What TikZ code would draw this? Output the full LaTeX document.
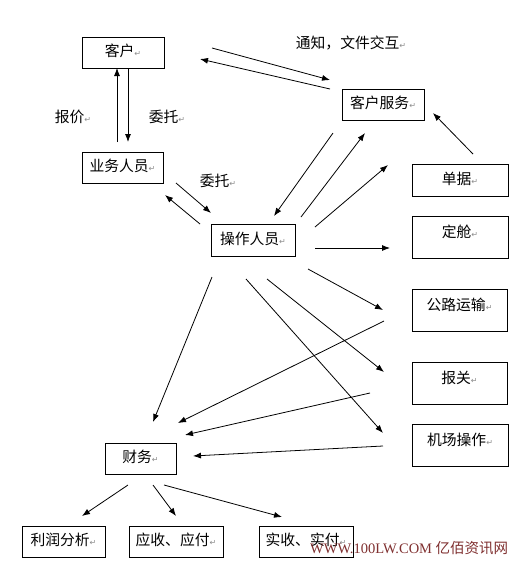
\documentclass[tikz,border=0pt]{standalone}
\usepackage{fontspec}
\usetikzlibrary{arrows.meta}
\newfontfamily\cjk{Noto Sans CJK SC}
\newfontfamily\dejavu{DejaVu Sans}
\newfontfamily\wmserif{Liberation Serif}
\definecolor{wmred}{RGB}{128,48,48}
\newcommand\retmk{{\fontsize{8}{8}\selectfont\dejavu\color{black!45}↵}}
\begin{document}
\begin{tikzpicture}[x=1pt,y=-1pt,
  every node/.style={font=\cjk\fontsize{14.8}{16}\selectfont},
  box/.style={draw=black,line width=0.8pt,inner sep=0pt,text height=11pt,text depth=3pt,align=center},
  tallbox/.style={box,text depth=11pt},
  lbl/.style={inner sep=0pt},
  arr/.style={line width=0.8pt,-{Latex[length=8pt,width=6pt]}}]
\fill[white] (0,0) rectangle (530,563);
\useasboundingbox (0,0) rectangle (530,563);

% boxes
\node[box,minimum width=82pt,minimum height=31pt] (kehu) at (123,52.5) {客户\retmk};
\node[box,minimum width=82pt,minimum height=31pt] (kf) at (383,104.5) {客户服务\retmk};
\node[box,minimum width=81pt,minimum height=31pt] (yw) at (122.5,167.5) {业务人员\retmk};
\node[box,minimum width=96pt,minimum height=32pt] (dj) at (460,180) {单据\retmk};
\node[box,minimum width=84pt,minimum height=32pt] (cz) at (253,240) {操作人员\retmk};
\node[tallbox,minimum width=96pt,minimum height=42pt] (dc) at (460,237) {定舱\retmk};
\node[tallbox,minimum width=95pt,minimum height=42pt] (gl) at (459.5,310) {公路运输\retmk};
\node[tallbox,minimum width=95pt,minimum height=42pt] (bg) at (459.5,383) {报关\retmk};
\node[tallbox,minimum width=96pt,minimum height=42pt] (jc) at (460,445) {机场操作\retmk};
\node[box,minimum width=71pt,minimum height=31pt] (cw) at (140.5,458.5) {财务\retmk};
\node[box,minimum width=83pt,minimum height=31pt] (lr) at (63.5,541.5) {利润分析\retmk};
\node[box,minimum width=94pt,minimum height=31pt] (ys) at (176,541.5) {应收、应付\retmk};
\node[box,minimum width=94pt,minimum height=31pt] (ss) at (306,541.5) {实收、实付\retmk};

% labels
\node[lbl] (l1) at (351,43) {通知，文件交互\retmk};
\node[lbl] (l2) at (73,117) {报价\retmk};
\node[lbl] (l3) at (167,117) {委托\retmk};
\node[lbl] (l4) at (218,181) {委托\retmk};

% connectors
\draw[arr] ([shift={(89,-4.5)}]kehu.center) -- ([shift={(-53,-24.5)}]kf.center);
\draw[arr] ([shift={(-53,-15.5)}]kf.center) -- ([shift={(77,6.5)}]kehu.center);
\draw[arr] ([shift={(-5.5,-25.5)}]yw.center) -- ([shift={(-6,15.5)}]kehu.center);
\draw[arr] ([shift={(5,15.5)}]kehu.center) -- ([shift={(5.5,-25.5)}]yw.center);
\draw[arr] ([shift={(53.5,15.5)}]yw.center) -- ([shift={(-42,-27)}]cz.center);
\draw[arr] ([shift={(-53,-16)}]cz.center) -- ([shift={(42.5,27.5)}]yw.center);
\draw[arr] ([shift={(-50,28.5)}]kf.center) -- ([shift={(21,-24)}]cz.center);
\draw[arr] ([shift={(48,-23)}]cz.center) -- ([shift={(-18,28.5)}]kf.center);
\draw[arr] ([shift={(62,-13)}]cz.center) -- ([shift={(-72,-15)}]dj.center);
\draw[arr] ([shift={(13,-26)}]dj.center) -- ([shift={(50,8.5)}]kf.center);
\draw[arr] ([shift={(62,8)}]cz.center) -- ([shift={(-70,11)}]dc.center);
\draw[arr] ([shift={(55,29)}]cz.center) -- ([shift={(-76.5,0)}]gl.center);
\draw[arr] ([shift={(14,39)}]cz.center) -- ([shift={(-75.5,-11)}]bg.center);
\draw[arr] ([shift={(-7,39)}]cz.center) -- ([shift={(-77,-12)}]jc.center);
\draw[arr] ([shift={(-41,37)}]cz.center) -- ([shift={(12.5,-36.5)}]cw.center);
\draw[arr] ([shift={(-75.5,11)}]gl.center) -- ([shift={(37.5,-35.5)}]cw.center);
\draw[arr] ([shift={(-89.5,10)}]bg.center) -- ([shift={(44.5,-23.5)}]cw.center);
\draw[arr] ([shift={(-77,1)}]jc.center) -- ([shift={(52.5,-2.5)}]cw.center);
\draw[arr] ([shift={(-12.5,26.5)}]cw.center) -- ([shift={(18.5,-25.5)}]lr.center);
\draw[arr] ([shift={(12.5,26.5)}]cw.center) -- ([shift={(0,-25.5)}]ys.center);
\draw[arr] ([shift={(23.5,26.5)}]cw.center) -- ([shift={(-24,-24.5)}]ss.center);

% watermark
\node[inner sep=0pt,text=wmred,anchor=west] (wm) at (310,548) {\wmserif\fontsize{14.5}{15}\selectfont WWW.100LW.COM \cjk\fontsize{14.5}{15}\selectfont 亿佰资讯网};
\end{tikzpicture}
\end{document}
